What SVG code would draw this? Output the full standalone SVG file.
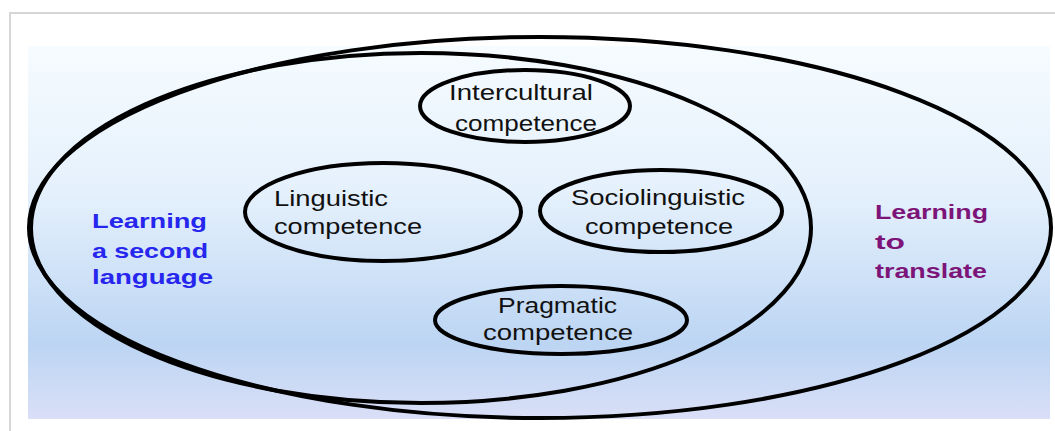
<svg xmlns="http://www.w3.org/2000/svg" width="1055" height="431" viewBox="0 0 1055 431">
<defs>
<linearGradient id="bg" x1="0" y1="0" x2="0" y2="1">
<stop offset="0" stop-color="#f6fcff"/>
<stop offset="0.4" stop-color="#e4f0fc"/>
<stop offset="0.8" stop-color="#bcd5f3"/>
<stop offset="1" stop-color="#dadff7"/>
</linearGradient>
</defs>
<style>
.ring{fill:none;stroke:#000;stroke-width:4}
.t{font-family:"Liberation Sans",Arial,sans-serif;font-size:22px;fill:#111}
.b{font-family:"Liberation Sans",Arial,sans-serif;font-size:21px;font-weight:bold}
.blue{fill:#2626ee}
.purple{fill:#7d1579}
</style>
<rect x="0" y="0" width="1055" height="431" fill="#ffffff"/>
<rect x="10" y="13" width="1060" height="430" fill="#ffffff" stroke="#d6d6d6" stroke-width="2"/>
<rect x="28" y="46" width="1022" height="373" fill="url(#bg)"/>
<g id="translate">
<ellipse class="ring" cx="540" cy="227.5" rx="511" ry="190.5"/>
<text class="b purple" x="875" y="219" textLength="113" lengthAdjust="spacingAndGlyphs">Learning</text>
<text class="b purple" x="875" y="249" textLength="30" lengthAdjust="spacingAndGlyphs">to</text>
<text class="b purple" x="875" y="278" textLength="112" lengthAdjust="spacingAndGlyphs">translate</text>
</g>
<g id="second-language">
<ellipse class="ring" cx="421" cy="228" rx="390" ry="175"/>
<text class="b blue" x="92" y="228" textLength="115" lengthAdjust="spacingAndGlyphs">Learning</text>
<text class="b blue" x="92" y="258" textLength="116" lengthAdjust="spacingAndGlyphs">a second</text>
<text class="b blue" x="92" y="284" textLength="121" lengthAdjust="spacingAndGlyphs">language</text>
</g>
<g id="intercultural">
<ellipse class="ring" cx="525" cy="106" rx="105" ry="36"/>
<text class="t" x="449" y="100" textLength="144" lengthAdjust="spacingAndGlyphs">Intercultural</text>
<text class="t" x="455" y="131" textLength="142" lengthAdjust="spacingAndGlyphs">competence</text>
</g>
<g id="linguistic">
<ellipse class="ring" cx="383" cy="212" rx="138" ry="49"/>
<text class="t" x="274" y="206" textLength="114" lengthAdjust="spacingAndGlyphs">Linguistic</text>
<text class="t" x="274" y="234" textLength="148" lengthAdjust="spacingAndGlyphs">competence</text>
</g>
<g id="sociolinguistic">
<ellipse class="ring" cx="661" cy="211" rx="121" ry="41"/>
<text class="t" x="571" y="205" textLength="174" lengthAdjust="spacingAndGlyphs">Sociolinguistic</text>
<text class="t" x="585" y="234" textLength="148" lengthAdjust="spacingAndGlyphs">competence</text>
</g>
<g id="pragmatic">
<ellipse class="ring" cx="561" cy="320" rx="126" ry="34"/>
<text class="t" x="498" y="313" textLength="119" lengthAdjust="spacingAndGlyphs">Pragmatic</text>
<text class="t" x="483" y="340" textLength="150" lengthAdjust="spacingAndGlyphs">competence</text>
</g>
<g id="connectors"/>
</svg>
